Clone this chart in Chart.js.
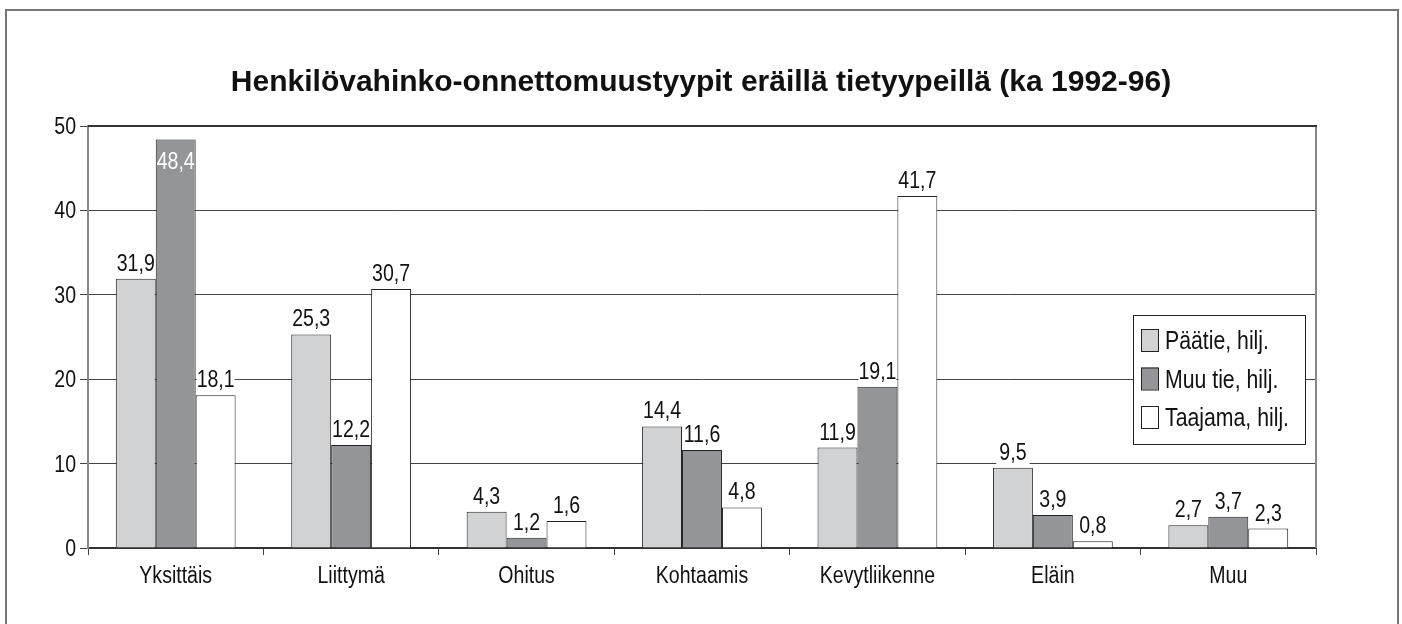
<!DOCTYPE html>
<html>
<head>
<meta charset="utf-8">
<script src="https://cdn.jsdelivr.net/npm/chart.js@4.4.1/dist/chart.umd.min.js"></script>
<style>
  html, body { margin: 0; padding: 0; background: #fff; }
  #wrap { width: 1402px; height: 624px; }
</style>
</head>
<body>
<div id="wrap"><canvas id="chart" width="1402" height="624"></canvas></div>
<script>
// Tiedot
const categories = ["Yksittäis", "Liittymä", "Ohitus", "Kohtaamis", "Kevytliikenne", "Eläin", "Muu"];
const seriesNames = ["Päätie, hilj.", "Muu tie, hilj.", "Taajama, hilj."];
const paatie = [31.9, 25.3, 4.3, 14.4, 11.9, 9.5, 2.7];
const muuTie = [48.4, 12.2, 1.2, 11.6, 19.1, 3.9, 3.7];
// Ohitus: palkki on kuvassa n. 3,2 korkuinen, vaikka nimiö on 1,6
const taajama = [18.1, 30.7, 3.2, 4.8, 41.7, 0.8, 2.3];
const paatieLabels = ["31,9", "25,3", "4,3", "14,4", "11,9", "9,5", "2,7"];
const muuTieLabels = ["48,4", "12,2", "1,2", "11,6", "19,1", "3,9", "3,7"];
const taajamaLabels = ["18,1", "30,7", "1,6", "4,8", "41,7", "0,8", "2,3"];
const yTicks = [0, 10, 20, 30, 40, 50];

const title = "Henkilövahinko-onnettomuustyypit eräillä tietyypeillä (ka 1992-96)";
const fontFamily = "'Liberation Sans', Arial, sans-serif";
const colors = ["#d1d2d4", "#939598", "#ffffff"];
const valueLabels = [paatieLabels, muuTieLabels, taajamaLabels];
const NARROW = 0.85;

// kapea teksti (ei Arial Narrow -fonttia, joten skaalataan vaakasuunnassa)
function narrowText(c, txt, x, y, size, align, color) {
  c.save();
  c.translate(x, y);
  c.scale(NARROW, 1);
  c.font = size + "px " + fontFamily;
  c.textAlign = align;
  c.textBaseline = "alphabetic";
  c.fillStyle = color;
  c.fillText(txt, 0, 0);
  c.restore();
}
function narrowWidth(c, txt, size) {
  c.save();
  c.font = size + "px " + fontFamily;
  const w = c.measureText(txt).width * NARROW;
  c.restore();
  return w;
}

const framePlugin = {
  id: "frame",
  beforeDraw(chart) {
    const c = chart.ctx;
    c.save();
    c.fillStyle = "#fff";
    c.fillRect(0, 0, chart.width, chart.height);
    c.strokeStyle = "#777";
    c.lineWidth = 2;
    c.beginPath();
    c.moveTo(6, chart.height);
    c.lineTo(6, 10);
    c.lineTo(1398, 10);
    c.lineTo(1398, chart.height);
    c.stroke();
    c.fillStyle = "#111";
    c.font = "bold 30px " + fontFamily;
    c.textAlign = "center";
    c.textBaseline = "alphabetic";
    c.fillText(title, 701, 91);
    c.restore();
  },
  afterDatasetsDraw(chart) {
    const c = chart.ctx;
    const a = chart.chartArea;
    c.save();
    // oikea reuna ja yläreuna
    c.strokeStyle = "#888";
    c.lineWidth = 2;
    c.beginPath();
    c.moveTo(a.right, a.top);
    c.lineTo(a.right, a.bottom);
    c.stroke();
    c.strokeStyle = "#333";
    c.beginPath();
    c.moveTo(a.left, a.top);
    c.lineTo(a.right + 1, a.top);
    c.stroke();
    c.restore();

    // akselien nimiöt
    const ys = chart.scales.y, xs = chart.scales.x;
    yTicks.forEach(v => narrowText(c, String(v), a.left - 12, ys.getPixelForValue(v) + 8, 23, "right", "#111"));
    categories.forEach((lab, i) => narrowText(c, lab, xs.getPixelForValue(i), a.bottom + 35, 23, "center", "#111"));

    // arvot palkkien päälle
    chart.data.datasets.forEach((ds, di) => {
      const meta = chart.getDatasetMeta(di);
      meta.data.forEach((bar, i) => {
        const txt = valueLabels[di][i];
        const v = ds.data[i];
        if (v > 45) {
          narrowText(c, txt, bar.x, bar.y + 29, 23, "center", "#fff");
        } else {
          const w = Math.min(narrowWidth(c, txt, 23) + 6, bar.width - 2);
          c.fillStyle = "#fff";
          c.fillRect(bar.x - w / 2, bar.y - 27, w, 24);
          narrowText(c, txt, bar.x, bar.y - 8, 23, "center", "#111");
        }
      });
    });

    // selite
    const lx = 1133, ly = 315, lw = 172, lh = 129;
    c.save();
    c.fillStyle = "#fff";
    c.fillRect(lx, ly, lw, lh);
    c.strokeStyle = "#222";
    c.lineWidth = 1;
    c.strokeRect(lx + 0.5, ly + 0.5, lw, lh);
    seriesNames.forEach((name, k) => {
      const cy = ly + 25 + k * 38.5;
      c.fillStyle = colors[k];
      c.fillRect(lx + 8, cy - 11, 17, 22);
      c.strokeStyle = "#222";
      c.strokeRect(lx + 8.5, cy - 10.5, 17, 22);
      narrowText(c, name, lx + 32, cy + 9, 25, "left", "#111");
    });
    c.restore();
  }
};

const ctx = document.getElementById("chart").getContext("2d");
new Chart(ctx, {
  type: "bar",
  data: {
    labels: categories,
    datasets: [paatie, muuTie, taajama].map((d, k) => ({
      label: seriesNames[k],
      data: d,
      backgroundColor: colors[k],
      borderColor: "#222",
      borderWidth: 1,
      categoryPercentage: 0.683,
      barPercentage: 1.0
    }))
  },
  options: {
    responsive: false,
    animation: false,
    events: [],
    layout: { padding: { left: 0, right: 86, top: 126, bottom: 0 } },
    plugins: {
      legend: { display: false },
      title: { display: false },
      tooltip: { enabled: false }
    },
    scales: {
      x: {
        grid: {
          offset: true,
          drawOnChartArea: false,
          color: "#444",
          tickLength: 7
        },
        border: { color: "#333", width: 2 },
        ticks: { color: "rgba(0,0,0,0)", font: { family: fontFamily, size: 20 }, maxRotation: 0 },
        afterFit(scale) { scale.height = 76; }
      },
      y: {
        min: 0,
        max: 50,
        afterBuildTicks(scale) { scale.ticks = yTicks.map(v => ({ value: v })); },
        grid: { color: "#444", lineWidth: 1, tickLength: 8 },
        border: { color: "#888", width: 2 },
        ticks: { color: "rgba(0,0,0,0)", font: { family: fontFamily, size: 20 } },
        afterFit(scale) { scale.width = 88; }
      }
    }
  },
  plugins: [framePlugin]
});
</script>
</body>
</html>
